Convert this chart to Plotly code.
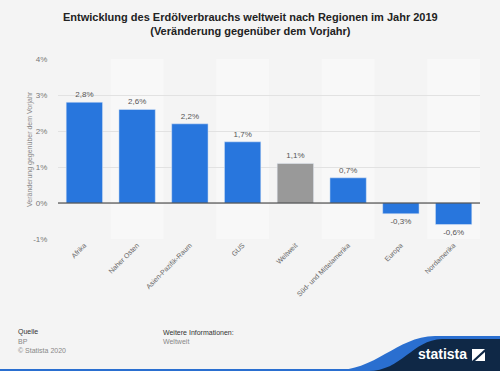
import plotly.graph_objects as go

categories = ["Afrika", "Naher Osten", "Asien-Pazifik-Raum", "GUS", "Weltweit",
              "Süd- und Mittelamerika", "Europa", "Nordamerika"]
values = [2.8, 2.6, 2.2, 1.7, 1.1, 0.7, -0.3, -0.6]
highlight = "Weltweit"
y_ticks = [-1, 0, 1, 2, 3, 4]
y_tick_labels = ["-1%", "0%", "1%", "2%", "3%", "4%"]

W, H = 500, 371
L, R, T, B = 58, 20, 59, 132
PW, PH = W - L - R, H - T - B

def px(x):
    return (x - L) / PW

def py(y):
    return (H - B - y) / PH

FONT = "Liberation Sans, Arial, sans-serif"
colors = ["#999999" if c == highlight else "#2876dd" for c in categories]

fig = go.Figure()
fig.add_trace(go.Bar(
    x=categories, y=values, marker_color=colors, width=0.69,
    text=[f"{v:.1f}".replace(".", ",") + "%" for v in values],
    textposition="outside", cliponaxis=False,
    textfont=dict(size=8, color="#555555", family=FONT),
    hoverinfo="skip",
))

shapes = []
for i, c in enumerate(categories):
    if i % 2 == 1:
        shapes.append(dict(type="rect", xref="x", yref="paper", x0=i - 0.5, x1=i + 0.5,
                           y0=0, y1=1, fillcolor="#f8f8f8", line_width=0, layer="below"))
shapes.append(dict(type="line", xref="paper", yref="y", x0=0, x1=1, y0=0, y1=0,
                   line=dict(color="#333333", width=1)))

def pth(points):
    return "M " + " L ".join(f"{px(a):.4f},{py(b):.4f}" for a, b in points) + " Z"

def curve(x0, cx1, cy1, cx2, cy2, x1, y1, y_end):
    return (f"M {px(x0):.4f},{py(371):.4f} C {px(cx1):.4f},{py(cy1):.4f} {px(cx2):.4f},{py(cy2):.4f} "
            f"{px(x1):.4f},{py(y1):.4f} L {px(500):.4f},{py(y_end):.4f} L {px(500):.4f},{py(371):.4f} Z")

shapes.append(dict(type="path", xref="paper", yref="paper",
                   path=curve(330, 378, 371, 395, 337, 435, 336, 336),
                   fillcolor="#2a6fd0", line_width=0))
shapes.append(dict(type="path", xref="paper", yref="paper",
                   path=curve(368, 402, 371, 412, 340, 442, 339, 339),
                   fillcolor="#0f2846", line_width=0))
shapes.append(dict(type="rect", xref="paper", yref="paper", x0=px(0), x1=px(370),
                   y0=py(371), y1=py(369), fillcolor="#2a6fd0", line_width=0))
shapes.append(dict(type="path", xref="paper", yref="paper",
                   path=pth([(472, 361), (472, 349), (485, 349)]),
                   fillcolor="#ffffff", line_width=0))
shapes.append(dict(type="path", xref="paper", yref="paper",
                   path=pth([(485, 361), (485, 352), (475, 361)]),
                   fillcolor="#ffffff", line_width=0))

annotations = [
    dict(text="<b>Entwicklung des Erdölverbrauchs weltweit nach Regionen im Jahr 2019</b><br><b>(Veränderung gegenüber dem Vorjahr)</b>",
         xref="paper", yref="paper", x=px(250), y=py(24), xanchor="center", yanchor="middle",
         showarrow=False, font=dict(size=11, color="#222222", family=FONT), align="center"),
    dict(text="Veränderung gegenüber dem Vorjahr", xref="paper", yref="paper",
         x=px(30), y=py(149), textangle=-90, xanchor="center", yanchor="middle",
         showarrow=False, font=dict(size=7, color="#888888", family=FONT)),
    dict(text="Quelle", xref="paper", yref="paper", x=px(16), y=py(332), xanchor="left", yanchor="middle",
         showarrow=False, font=dict(size=7, color="#333333", family=FONT)),
    dict(text="BP", xref="paper", yref="paper", x=px(16), y=py(341), xanchor="left", yanchor="middle",
         showarrow=False, font=dict(size=7, color="#888888", family=FONT)),
    dict(text="© Statista 2020", xref="paper", yref="paper", x=px(16), y=py(350), xanchor="left", yanchor="middle",
         showarrow=False, font=dict(size=7, color="#888888", family=FONT)),
    dict(text="Weitere Informationen:", xref="paper", yref="paper", x=px(161), y=py(332), xanchor="left", yanchor="middle",
         showarrow=False, font=dict(size=7, color="#333333", family=FONT)),
    dict(text="Weltweit", xref="paper", yref="paper", x=px(161), y=py(341), xanchor="left", yanchor="middle",
         showarrow=False, font=dict(size=7, color="#888888", family=FONT)),
    dict(text="<b>statista</b>", xref="paper", yref="paper", x=px(469), y=py(354), xanchor="right", yanchor="middle",
         showarrow=False, font=dict(size=14, color="#ffffff", family=FONT)),
]

fig.update_layout(
    width=W, height=H,
    margin=dict(l=L, r=R, t=T, b=B, autoexpand=False),
    paper_bgcolor="#f4f4f4", plot_bgcolor="#f4f4f4",
    showlegend=False, bargap=0.31,
    shapes=shapes, annotations=annotations,
    font=dict(family=FONT, size=8, color="#666666"),
    xaxis=dict(tickangle=-45, tickfont=dict(size=7, color="#666666"), showgrid=False,
               showline=False, ticks="", fixedrange=True),
    yaxis=dict(range=[-1, 4], tickvals=y_ticks, ticktext=y_tick_labels,
               gridcolor="#e2e2e2", gridwidth=1, zeroline=False, showline=False,
               ticks="outside", ticklen=8, tickcolor="rgba(0,0,0,0)",
               tickfont=dict(size=8, color="#777777"), fixedrange=True),
)

fig.write_html("out.html", config={"displayModeBar": False},
               post_script="document.body.style.margin='0';document.body.style.background='#f4f4f4';")
